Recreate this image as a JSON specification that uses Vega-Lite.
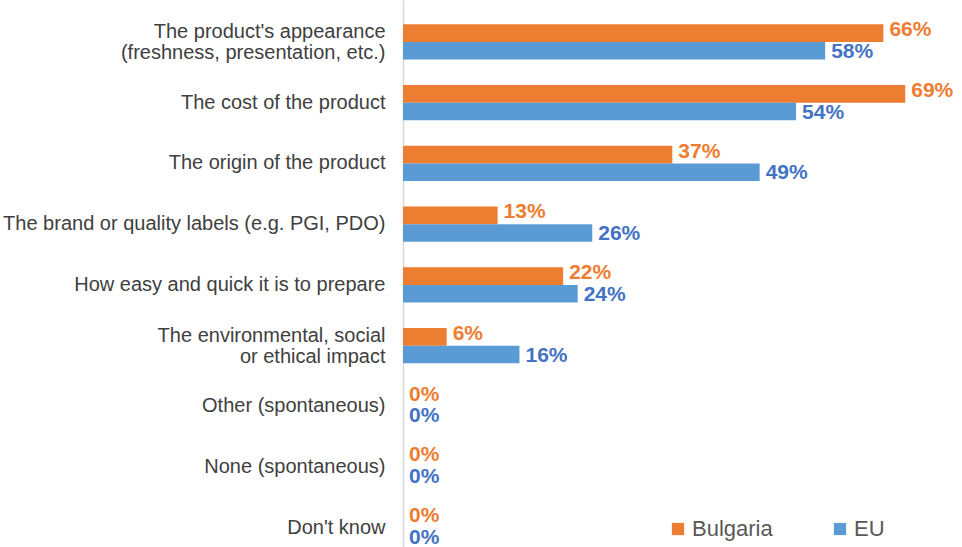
{
  "$schema": "https://vega.github.io/schema/vega-lite/v6.json",
  "autosize": {"type": "none"},
  "padding": {"left": 403, "top": 0, "right": 0, "bottom": 0},
  "width": 559,
  "height": 547,
  "background": "white",
  "config": {"view": {"stroke": null}, "font": "Liberation Sans"},
  "data": {
    "values": [
      {"cat": "The product's appearance|(freshness, presentation, etc.)", "series": "Bulgaria", "value": 0.66},
      {"cat": "The product's appearance|(freshness, presentation, etc.)", "series": "EU", "value": 0.58},
      {"cat": "The cost of the product", "series": "Bulgaria", "value": 0.69},
      {"cat": "The cost of the product", "series": "EU", "value": 0.54},
      {"cat": "The origin of the product", "series": "Bulgaria", "value": 0.37},
      {"cat": "The origin of the product", "series": "EU", "value": 0.49},
      {"cat": "The brand or quality labels (e.g. PGI, PDO)", "series": "Bulgaria", "value": 0.13},
      {"cat": "The brand or quality labels (e.g. PGI, PDO)", "series": "EU", "value": 0.26},
      {"cat": "How easy and quick it is to prepare", "series": "Bulgaria", "value": 0.22},
      {"cat": "How easy and quick it is to prepare", "series": "EU", "value": 0.24},
      {"cat": "The environmental, social|or ethical impact", "series": "Bulgaria", "value": 0.06},
      {"cat": "The environmental, social|or ethical impact", "series": "EU", "value": 0.16},
      {"cat": "Other (spontaneous)", "series": "Bulgaria", "value": 0},
      {"cat": "Other (spontaneous)", "series": "EU", "value": 0},
      {"cat": "None (spontaneous)", "series": "Bulgaria", "value": 0},
      {"cat": "None (spontaneous)", "series": "EU", "value": 0},
      {"cat": "Don't know", "series": "Bulgaria", "value": 0},
      {"cat": "Don't know", "series": "EU", "value": 0}
    ]
  },
  "encoding": {
    "y": {
      "field": "cat", "type": "nominal", "sort": null, "title": null,
      "scale": {"paddingInner": 0.42, "paddingOuter": 0.212, "align": 0.945},
      "axis": {
        "labelExpr": "split(datum.label, '|')",
        "labelFontSize": 20, "labelColor": "#404040", "labelLineHeight": 21,
        "labelOffset": {"condition": {"test": "indexof(datum.value, '|') >= 0", "value": -10}, "value": 0},
        "labelPadding": 18, "ticks": false, "domainColor": "#d9d9d9", "domainWidth": 1.5,
        "labelLimit": 420, "grid": false
      }
    },
    "yOffset": {"field": "series", "type": "nominal", "sort": ["Bulgaria", "EU"]},
    "x": {
      "field": "value", "type": "quantitative",
      "scale": {"domain": [0, 0.768], "nice": false}, "axis": null
    }
  },
  "layer": [
    {
      "mark": {"type": "bar"},
      "encoding": {
        "color": {
          "field": "series", "type": "nominal",
          "scale": {"domain": ["Bulgaria", "EU"], "range": ["#ED7D31", "#5B9BD5"]},
          "legend": {
            "title": null, "orient": "none", "direction": "horizontal",
            "legendX": 264, "legendY": 518,
            "symbolType": "square", "symbolSize": 150, "symbolStrokeWidth": 0,
            "labelFontSize": 22, "labelColor": "#595959", "columnPadding": 56,
            "labelOffset": 3
          }
        }
      }
    },
    {
      "transform": [{"filter": "datum.series === 'Bulgaria'"}],
      "mark": {"type": "text", "align": "left", "baseline": "middle", "dx": 6, "dy": -3, "fontSize": 21, "fontWeight": "bold", "color": "#ED7D31"},
      "encoding": {
        "text": {"field": "value", "type": "quantitative", "format": ".0%"}
      }
    },
    {
      "transform": [{"filter": "datum.series === 'EU'"}],
      "mark": {"type": "text", "align": "left", "baseline": "middle", "dx": 6, "dy": 1, "fontSize": 21, "fontWeight": "bold", "color": "#4472C4"},
      "encoding": {
        "text": {"field": "value", "type": "quantitative", "format": ".0%"}
      }
    }
  ]
}
